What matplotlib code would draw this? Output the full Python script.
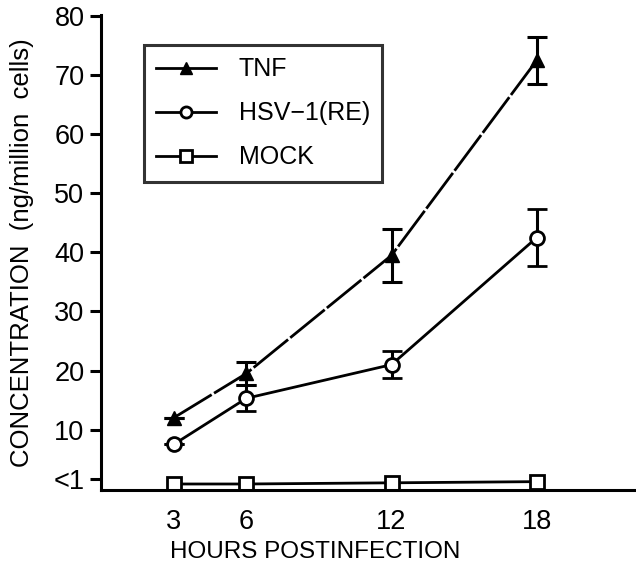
import matplotlib.pyplot as plt
from matplotlib.lines import Line2D

plt.rcParams['font.family'] = ['Liberation Sans', 'DejaVu Sans']

hours = [3, 6, 12, 18]

tnf = [12.0, 19.5, 39.5, 72.5]
tnf_err = [0, 2.0, 4.5, 4.0]

hsv = [7.5, 15.3, 21.0, 42.5]
hsv_err = [0, 2.2, 2.3, 4.8]

mock = [0.8, 0.8, 1.0, 1.2]

ytick_vals = [1.7, 10, 20, 30, 40, 50, 60, 70, 80]
ytick_labels = ['<1', '10', '20', '30', '40', '50', '60', '70', '80']

fig = plt.figure(figsize=(6.36, 5.69), dpi=100)
ax = fig.add_axes([0.159, 0.139, 0.841, 0.835])

ax.errorbar(hours, tnf, yerr=tnf_err, color='black', lw=2, dashes=(16, 1.0),
            marker='^', ms=10, mfc='black', capsize=7, elinewidth=2.2, capthick=2.2)
ax.errorbar(hours, hsv, yerr=hsv_err, color='black', lw=2,
            marker='o', ms=10, mfc='white', mew=2, capsize=7, elinewidth=2.2, capthick=2.2)
ax.plot(hours, mock, color='black', lw=2, marker='s', ms=10, mfc='white', mew=2)

ax.set_xlim(0, 22.1)
ax.set_ylim(-0.2, 80.2)
ax.set_xticks(hours)
ax.set_xticklabels([str(h) for h in hours])
ax.set_yticks(ytick_vals)
ax.set_yticklabels(ytick_labels)
ax.tick_params(axis='x', length=0, pad=14, labelsize=19.5)
ax.tick_params(axis='y', length=8, width=2.2, pad=4, labelsize=19.5)
for s in ['top', 'right']:
    ax.spines[s].set_visible(False)
for s in ['left', 'bottom']:
    ax.spines[s].set_linewidth(2.2)

ax.set_xlabel('HOURS POSTINFECTION', fontsize=17.5)
ax.xaxis.set_label_coords(0.40, -0.107)
ax.set_ylabel('CONCENTRATION  (ng/million  cells)', fontsize=18.5)
ax.yaxis.set_label_coords(-0.125, 0.5)

handles = [
    Line2D([], [], color='black', lw=2, marker='^', ms=9, mfc='black'),
    Line2D([], [], color='black', lw=2, marker='o', ms=8, mfc='white', mew=2),
    Line2D([], [], color='black', lw=2, marker='s', ms=8, mfc='white', mew=2),
]
labels = ['TNF', 'HSV\u22121(RE)', 'MOCK']
leg = ax.legend(handles, labels, loc='upper left', bbox_to_anchor=(0.226, 0.921),
                bbox_transform=fig.transFigure, fontsize=18, frameon=True,
                fancybox=False, edgecolor='black', handlelength=2.4,
                handletextpad=0.9, labelspacing=0.8, borderpad=0.5,
                borderaxespad=0)
leg.get_frame().set_linewidth(2.2)

fig.savefig('out.png', dpi=100)
